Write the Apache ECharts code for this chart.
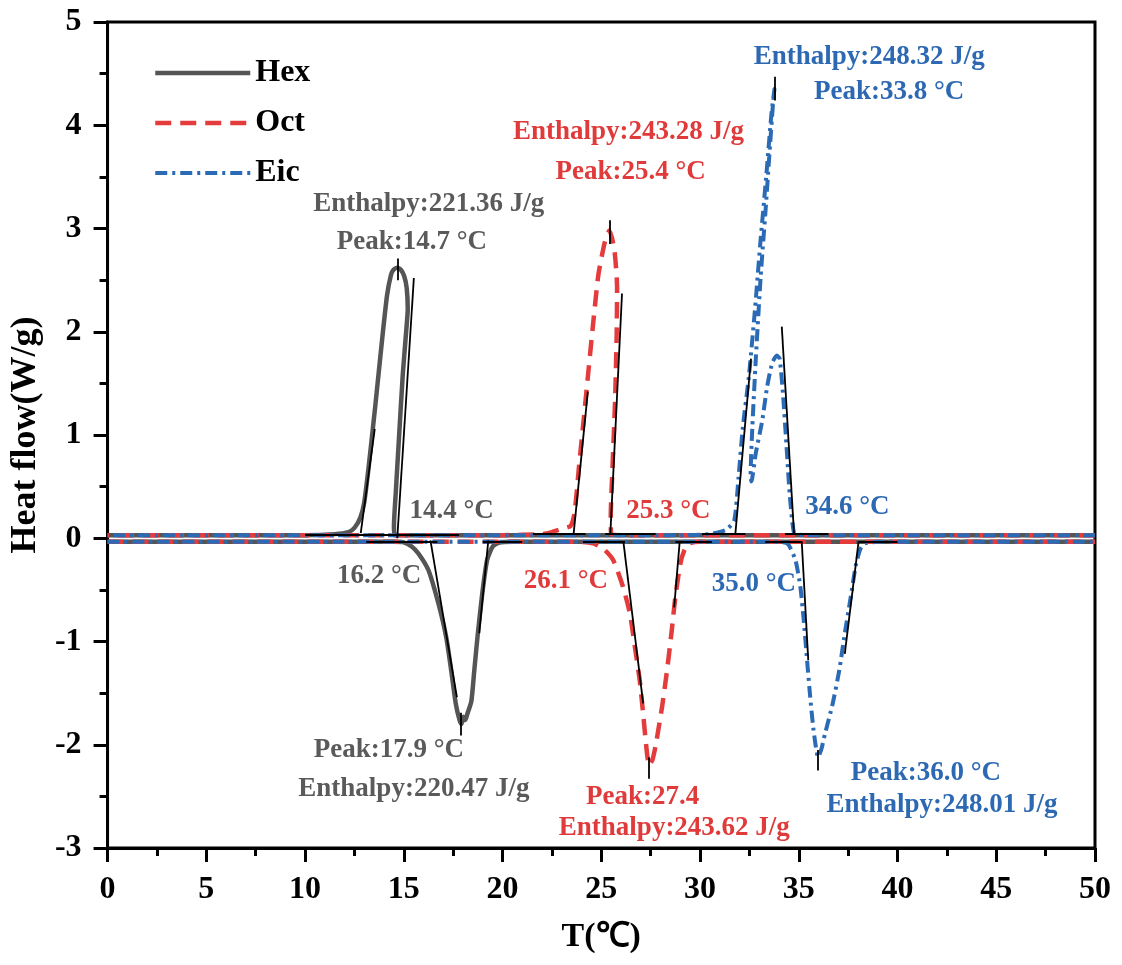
<!DOCTYPE html>
<html>
<head>
<meta charset="utf-8">
<script src="https://cdn.jsdelivr.net/npm/echarts@6/dist/echarts.min.js"></script>
<style>html,body{margin:0;padding:0;background:#fff}#c{width:1122px;height:965px}</style>
</head>
<body>
<div id="c"></div>
<script>
// ---------- data ----------
const xTicks = [0, 5, 10, 15, 20, 25, 30, 35, 40, 45, 50];
const yTicks = [-3, -2, -1, 0, 1, 2, 3, 4, 5];
const seriesNames = ['Hex', 'Oct', 'Eic'];

// cooling curves (time order, T decreasing)
const hexCool = [[50,0.03],[30,0.03],[20,0.03],[15,0.03],[14.55,0.04],[14.5,0.11],[14.6,0.46],[14.75,0.95],[14.95,1.59],[15.12,2.0],[15.2,2.22],[15.15,2.42],[15.02,2.54],[14.85,2.6],[14.67,2.62],[14.48,2.6],[14.35,2.55],[14.15,2.35],[13.9,1.92],[13.55,1.27],[13.22,0.69],[13.0,0.35],[12.8,0.2],[12.5,0.1],[12.2,0.06],[11.5,0.04],[10,0.03],[0,0.03]];
const octCool = [[50,0.03],[30,0.03],[26,0.03],[25.5,0.04],[25.48,0.21],[25.57,0.69],[25.7,1.34],[25.78,1.98],[25.8,2.43],[25.66,2.8],[25.41,2.98],[25.18,2.87],[24.86,2.56],[24.62,2.14],[24.37,1.66],[24.12,1.17],[23.87,0.69],[23.65,0.25],[23.45,0.12],[23.0,0.09],[22.5,0.06],[22.0,0.04],[20,0.03],[0,0.03]];
const eicCool = [[50,0.03],[40,0.03],[36,0.03],[35.0,0.035],[34.75,0.06],[34.54,0.43],[34.37,0.92],[34.2,1.4],[34.03,1.74],[33.89,1.77],[33.66,1.7],[33.4,1.47],[33.15,1.14],[32.82,0.82],[32.6,0.55],[32.56,0.6],[32.65,1.08],[32.82,1.72],[33.07,2.53],[33.32,3.18],[33.55,3.82],[33.7,4.22],[33.77,4.35],[33.62,4.12],[33.35,3.5],[33.05,2.85],[32.78,2.21],[32.47,1.56],[32.17,1.08],[31.95,0.59],[31.73,0.17],[31.3,0.08],[30.5,0.04],[29,0.03],[0,0.03]];

// heating curves (T increasing)
const hexHeat = [[0,-0.035],[14.5,-0.035],[15.0,-0.04],[15.4,-0.08],[15.75,-0.15],[16.25,-0.31],[16.75,-0.63],[17.15,-0.96],[17.4,-1.28],[17.63,-1.6],[17.82,-1.76],[17.92,-1.8],[18.02,-1.73],[18.12,-1.76],[18.22,-1.7],[18.42,-1.58],[18.57,-1.28],[18.73,-0.96],[18.97,-0.54],[19.22,-0.21],[19.5,-0.08],[19.8,-0.045],[20.5,-0.035],[50,-0.035]];
const octHeat = [[0,-0.035],[24,-0.035],[24.6,-0.05],[25.1,-0.1],[25.6,-0.21],[26.1,-0.47],[26.45,-0.73],[26.7,-1.05],[26.95,-1.38],[27.12,-1.7],[27.28,-2.02],[27.42,-2.2],[27.6,-2.14],[27.76,-2.0],[28.08,-1.63],[28.33,-1.28],[28.57,-0.89],[28.75,-0.57],[29.0,-0.25],[29.2,-0.12],[29.44,-0.05],[30,-0.035],[50,-0.035]];
const eicHeat = [[0,-0.035],[33.5,-0.035],[34.2,-0.04],[34.47,-0.06],[34.83,-0.21],[35.08,-0.47],[35.25,-0.79],[35.42,-1.18],[35.58,-1.54],[35.75,-1.86],[35.98,-2.12],[36.15,-2.04],[36.32,-1.9],[36.72,-1.6],[37.05,-1.28],[37.3,-0.96],[37.63,-0.57],[37.9,-0.25],[38.13,-0.1],[38.33,-0.05],[39,-0.035],[50,-0.035]];

// onset tangent / baseline / peak marker segments [[T1,H1],[T2,H2]]
const tangentSegments = [
  [[10.0,0.03],[17.8,0.03]],
  [[13.1,-0.035],[16.7,-0.035]],
  [[19.0,-0.035],[21.0,-0.035]],
  [[12.82,0.05],[13.53,1.06]],
  [[14.67,0.0],[15.51,2.52]],
  [[14.67,2.71],[14.67,2.5]],
  [[16.35,-0.02],[17.69,-1.54]],
  [[19.28,-0.02],[18.82,-0.92]],
  [[17.9,-1.69],[17.9,-1.91]],
  [[21.55,0.04],[24.2,0.04]],
  [[25.2,0.04],[27.75,0.04]],
  [[24.07,-0.035],[26.2,-0.035]],
  [[28.75,-0.035],[30.6,-0.035]],
  [[23.6,0.045],[24.32,1.42]],
  [[25.46,0.045],[26.05,2.37]],
  [[25.41,3.08],[25.41,2.85]],
  [[26.12,-0.035],[27.12,-1.6]],
  [[28.97,-0.035],[28.69,-0.67]],
  [[27.42,-2.12],[27.42,-2.33]],
  [[30.1,0.045],[32.3,0.045]],
  [[34.3,0.045],[36.5,0.045]],
  [[33.3,-0.035],[35.15,-0.035]],
  [[38.0,-0.035],[40.0,-0.035]],
  [[31.79,0.045],[32.58,1.74]],
  [[34.76,0.045],[34.14,2.05]],
  [[33.77,4.47],[33.77,4.24]],
  [[35.15,-0.03],[35.48,-1.18]],
  [[38.03,-0.03],[37.33,-1.12]],
  [[35.95,-2.05],[35.95,-2.25]]
];

// annotation texts with anchor in data coordinates, grouped by sample
const hexNotes = [['Enthalpy:221.36 J/g',16.26,3.24],['Peak:14.7 °C',15.41,2.87],['14.4 °C',17.42,0.26],['16.2 °C',13.75,-0.37],['Peak:17.9 °C',14.25,-2.05],['Enthalpy:220.47 J/g',15.51,-2.43]];
const octNotes = [['Enthalpy:243.28 J/g',26.38,3.93],['Peak:25.4 °C',26.49,3.55],['25.3 °C',28.4,0.26],['26.1 °C',23.21,-0.41],['Peak:27.4',27.09,-2.51],['Enthalpy:243.62 J/g',28.7,-2.81]];
const eicNotes = [['Enthalpy:248.32 J/g',38.57,4.66],['Peak:33.8 °C',39.58,4.32],['34.6 °C',37.46,0.30],['35.0 °C',32.73,-0.44],['Peak:36.0 °C',41.44,-2.27],['Enthalpy:248.01 J/g',42.25,-2.58]];

// ---------- styles ----------
const FONT = '"Liberation Serif","Times New Roman",serif';
const COLORS = { Hex: '#555555', Oct: '#e43c3c', Eic: '#2b6ab5' };
const TEXTCOL = { Hex: '#5a5a5a', Oct: '#e03a3a', Eic: '#2d69b3' };
const LINES = {
  Hex: { width: 4.5, type: 'solid' },
  Oct: { width: 4.5, type: [16, 9] },
  Eic: { width: 4, type: [12, 5, 3, 5] }
};

function curve(name, data) {
  return {
    name: name, type: 'line', data: data, showSymbol: false, symbol: 'none',
    smooth: 0.2, z: 3,
    lineStyle: { color: COLORS[name], width: LINES[name].width, type: LINES[name].type, cap: 'butt', join: 'round' },
    itemStyle: { color: COLORS[name] },
    emphasis: { disabled: true }, animation: false
  };
}
function notes(name, arr) {
  return {
    type: 'scatter', symbolSize: 0, z: 6, silent: true, animation: false,
    itemStyle: { color: TEXTCOL[name], opacity: 1 },
    data: arr.map(a => ({ value: [a[1], a[2]], label: { formatter: a[0] } })),
    label: { show: true, position: 'inside', color: TEXTCOL[name], opacity: 1, textBorderWidth: 0, textBorderColor: 'transparent',
             fontFamily: FONT, fontWeight: 'bold', fontSize: 27 }
  };
}

const chart = echarts.init(document.getElementById('c'), null, { renderer: 'canvas' });
chart.setOption({
  backgroundColor: '#fff',
  animation: false,
  grid: { left: 102, right: 27, top: 22, bottom: 117, show: true, borderColor: '#000', borderWidth: 3, backgroundColor: 'transparent' },
  legend: {
    data: seriesNames, orient: 'vertical', left: 148, top: 52,
    itemWidth: 95, itemHeight: 20, itemGap: 18,
    itemStyle: { opacity: 0, borderWidth: 0 },
    lineStyle: { width: 'inherit', type: 'inherit', opacity: 1 },
    textStyle: { fontFamily: FONT, fontWeight: 'bold', fontSize: 32, color: '#000', lineHeight: 32 },
    inactiveColor: '#ccc'
  },
  xAxis: {
    type: 'value', min: xTicks[0], max: xTicks[xTicks.length - 1], interval: 5,
    name: 'T(℃)', nameLocation: 'middle', nameGap: 72,
    nameTextStyle: { fontFamily: FONT, fontWeight: 'bold', fontSize: 34, color: '#000' },
    axisLine: { show: true, onZero: false, lineStyle: { color: '#000', width: 3 } },
    axisTick: { show: true, inside: false, length: 14, lineStyle: { color: '#000', width: 3 } },
    minorTick: { show: true, splitNumber: 2, length: 8, lineStyle: { color: '#000', width: 3 } },
    axisLabel: { margin: 26, fontFamily: FONT, fontWeight: 'bold', fontSize: 32, color: '#000' },
    splitLine: { show: false }
  },
  yAxis: {
    type: 'value', min: yTicks[0], max: yTicks[yTicks.length - 1], interval: 1,
    name: 'Heat flow(W/g)', nameLocation: 'middle', nameGap: 58,
    nameTextStyle: { fontFamily: FONT, fontWeight: 'bold', fontSize: 36, color: '#000' },
    axisLine: { show: true, onZero: false, lineStyle: { color: '#000', width: 3 } },
    axisTick: { show: true, inside: false, length: 14, lineStyle: { color: '#000', width: 3 } },
    minorTick: { show: true, splitNumber: 2, length: 8, lineStyle: { color: '#000', width: 3 } },
    axisLabel: { margin: 26, fontFamily: FONT, fontWeight: 'bold', fontSize: 32, color: '#000' },
    splitLine: { show: false }
  },
  series: [
    curve('Hex', hexCool), curve('Hex', hexHeat),
    curve('Oct', octCool), curve('Oct', octHeat),
    curve('Eic', eicCool), curve('Eic', eicHeat),
    {
      type: 'lines', coordinateSystem: 'cartesian2d', z: 5, silent: true, animation: false,
      polyline: false,
      lineStyle: { color: '#000', width: 1.8, opacity: 1 },
      data: tangentSegments.map(s => ({ coords: s }))
    },
    notes('Hex', hexNotes), notes('Oct', octNotes), notes('Eic', eicNotes)
  ]
});
</script>
</body>
</html>
